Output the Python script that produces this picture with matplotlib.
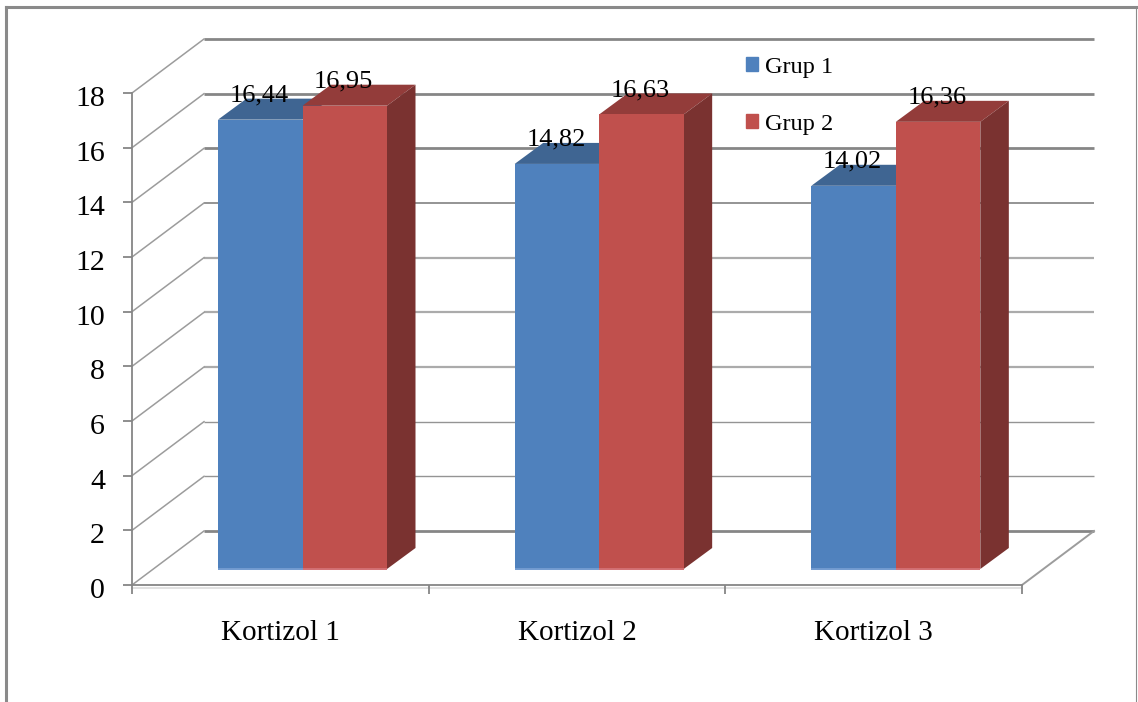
import matplotlib
matplotlib.use("Agg")
import matplotlib.pyplot as plt
from matplotlib.lines import Line2D
from matplotlib.patches import Patch, Polygon
from matplotlib.transforms import ScaledTranslation

categories = ["Kortizol 1", "Kortizol 2", "Kortizol 3"]
grup_1 = [16.44, 14.82, 14.02]
grup_2 = [16.95, 16.63, 16.36]
value_ticks = [0, 2, 4, 6, 8, 10, 12, 14, 16, 18]

plt.rcParams["font.family"] = ["Liberation Serif", "DejaVu Serif"]

W, H = 1138, 702
LEFT, RIGHT, Y0, Y18 = 132, 1022, 585, 93
PX_X = (RIGHT - LEFT) / 3.0
PX_Y = (Y0 - Y18) / 18.0

# wall and floor offset, bar depth and bar placement, in axis units
WALL_DX, WALL_DY = 72 / PX_X, 54 / PX_Y
BAR_DX, BAR_DY = 28.5 / PX_X, 21 / PX_Y
BAR_BASE = 16 / PX_Y
BAR_W = 84.5 / PX_X
BAR_START = 86 / PX_X

GRID = "#868686"
BLUE, BLUE_TOP, BLUE_EDGE = "#4F81BD", "#3F6592", "#729BD0"
RED, RED_TOP, RED_SIDE, RED_EDGE = "#C0504D", "#933C3A", "#7A3230", "#D26F73"

fig = plt.figure(figsize=(W / 100, H / 100), dpi=100)
ax = fig.add_axes([0, 0, 1, 1])
ax.set_xlim(-LEFT / PX_X, (W - LEFT) / PX_X)
ax.set_ylim((Y0 - H) / PX_Y, Y0 / PX_Y)
ax.patch.set_visible(False)

# outer frame of the chart area
for xs, ys, lw, col in [
    ([6, 6], [7, H], 2.2, "#8A8A8A"),
    ([6, 1136], [7, 7], 2.2, "#8A8A8A"),
    ([1136, 1136], [7, H], 0.8, "#8A8A8A"),
]:
    fig.add_artist(Line2D([x / W for x in xs], [1 - y / H for y in ys], color=col, lw=lw))


def grid_style(v):
    # upper lines render heavier than the lower ones
    if v >= 14 or v == 0:
        return 2.0, GRID
    if v == 12:
        return 1.4, "#949494"
    if v >= 6:
        return 1.6, "#ABABAB"
    return 1.0, "#949494"


# back wall gridlines and the slanted lines on the side wall
for v in value_ticks:
    lw, col = grid_style(v)
    ax.plot([WALL_DX, 3 + WALL_DX], [v + WALL_DY, v + WALL_DY], color=col,
            lw=lw, solid_capstyle="butt", zorder=1)
    ax.plot([0, WALL_DX], [v, v + WALL_DY], color="#9C9C9C", lw=1.1, zorder=1)
ax.plot([3, 3 + WALL_DX], [0, WALL_DY], color="#9C9C9C", lw=1.4, zorder=1)


def draw_bars(values, offset, front, top, edge, side=None, order=2):
    xs = [i + BAR_START + offset for i in range(len(values))]
    ax.bar(xs, values, width=BAR_W, bottom=BAR_BASE, align="edge", color=front, zorder=order + 0.2)
    for x, v in zip(xs, values):
        y = v + BAR_BASE
        ax.add_patch(Polygon([(x, y), (x + BAR_W, y), (x + BAR_W + BAR_DX, y + BAR_DY),
                              (x + BAR_DX, y + BAR_DY)], closed=True, color=top, lw=0, zorder=order))
        if side:
            ax.add_patch(Polygon([(x + BAR_W, BAR_BASE), (x + BAR_W + BAR_DX, BAR_BASE + BAR_DY),
                                  (x + BAR_W + BAR_DX, y + BAR_DY), (x + BAR_W, y)],
                                 closed=True, color=side, lw=0, zorder=order))
        ax.plot([x, x + BAR_W], [BAR_BASE, BAR_BASE], color=edge, lw=1.4,
                solid_capstyle="butt", zorder=order + 0.3)
        ax.text(x + BAR_W / 2 - 1 / PX_X, v + BAR_BASE + 24 / PX_Y, f"{v:.2f}".replace(".", ","),
                ha="center", va="center", fontsize=19, color="black", zorder=6)


draw_bars(grup_1, 0, BLUE, BLUE_TOP, BLUE_EDGE, order=2)
draw_bars(grup_2, BAR_W, RED, RED_TOP, RED_EDGE, side=RED_SIDE, order=3)

# axes drawn from spines, with ticks at every step
for name in ["top", "right"]:
    ax.spines[name].set_visible(False)
ax.spines["left"].set_position(("data", 0))
ax.spines["left"].set_bounds(0, 18)
ax.spines["bottom"].set_position(("data", 0))
ax.spines["bottom"].set_bounds(0, 3)
for name in ["left", "bottom"]:
    ax.spines[name].set_color(GRID)
    ax.spines[name].set_linewidth(1.3)
    ax.spines[name].set_zorder(4)
ax.plot([0, 3], [-2.5 / PX_Y, -2.5 / PX_Y], color="#DDDDDD", lw=1.2, zorder=0.5)

ax.set_yticks(value_ticks)
ax.tick_params(axis="y", length=6.5, width=1.3, color=GRID, pad=13, labelsize=21.5)
shift_down = ScaledTranslation(0, -3 / 100, fig.dpi_scale_trans)
for label in ax.get_yticklabels():
    label.set_transform(label.get_transform() + shift_down)
ax.set_xticks([0, 1, 2, 3])
ax.set_xticklabels([])
ax.set_xticks([0.5, 1.5, 2.5], minor=True)
ax.set_xticklabels(categories, minor=True)
ax.tick_params(axis="x", which="major", length=6.5, width=1.3, color=GRID)
ax.tick_params(axis="x", which="minor", length=0, pad=25, labelsize=21)

handles = [Patch(color=BLUE, label="Grup 1"), Patch(color=RED, label="Grup 2")]
ax.legend(handles=handles, loc="upper left", bbox_to_anchor=(724 / W, 1 - 35 / H), frameon=False,
          fontsize=17.5, labelspacing=1.47, handlelength=0.5, handleheight=0.5, handletextpad=0.28)

fig.savefig("out.png", dpi=100)
